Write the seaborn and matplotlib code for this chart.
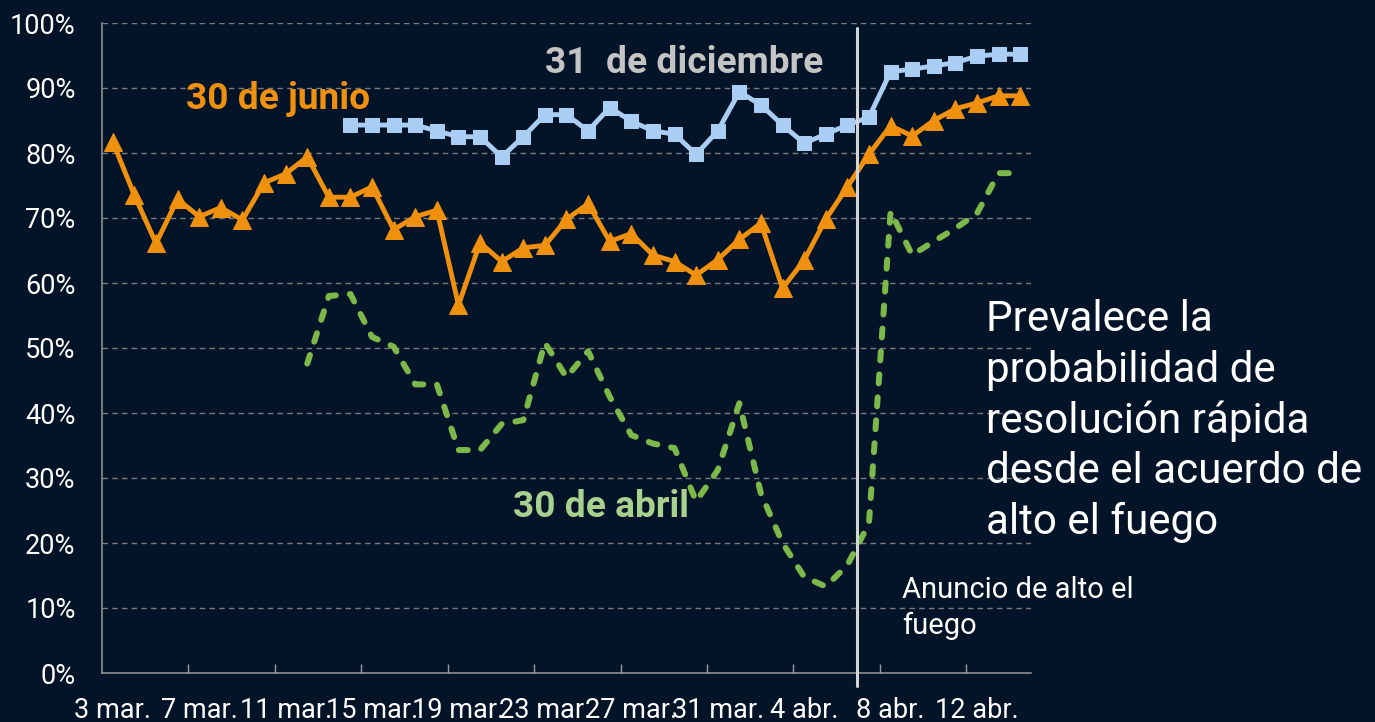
import matplotlib
matplotlib.use("Agg")
import matplotlib.pyplot as plt
import pandas as pd
import seaborn as sns

# ---------------- data ----------------
# daily categories: 3 mar. ... 14 abr. (43 days), index positions
dias = list(range(43))
tick_pos = [0, 4, 8, 12, 16, 20, 24, 28, 32, 36, 40]
tick_labels = ["3 mar.", "7 mar.", "11 mar.", "15 mar.", "19 mar.", "23 mar.",
               "27 mar.", "31 mar.", "4 abr.", "8 abr.", "12 abr."]

# 30 de junio (from 3 mar.)
junio = [81.7, 73.5, 66.1, 72.9, 70.2, 71.6, 69.7, 75.4, 76.8, 79.4,
         73.2, 73.2, 74.8, 68.2, 70.2, 71.2, 56.6, 66.2, 63.3, 65.4,
         65.8, 69.8, 72.2, 66.4, 67.6, 64.3, 63.3, 61.2, 63.6, 66.7,
         69.2, 59.2, 63.5, 69.8, 74.8, 79.8, 84.2, 82.6, 85.0, 86.8,
         87.7, 88.8, 88.8]

# 31 de diciembre (from 14 mar.)
diciembre_inicio = 11
diciembre = [84.3, 84.3, 84.3, 84.3, 83.4, 82.5, 82.5, 79.4, 82.5, 85.9,
             85.9, 83.4, 87.0, 84.9, 83.4, 82.9, 79.8, 83.4, 89.4, 87.4,
             84.3, 81.5, 82.9, 84.3, 85.5, 92.5, 92.9, 93.4, 93.9, 94.9,
             95.2, 95.2]

# 30 de abril (from 12 mar.)
abril_inicio = 9
abril = [47.6, 58.0, 58.3, 51.7, 50.2, 44.4, 44.4, 34.3, 34.3, 38.3,
         38.9, 50.8, 45.5, 49.5, 42.5, 36.6, 35.3, 34.6, 26.4, 31.2,
         41.5, 27.6, 20.0, 14.8, 13.3, 16.6, 23.0, 71.0, 64.3, 66.4,
         68.4, 70.7, 76.9, 76.9]

y_ticks = [0, 10, 20, 30, 40, 50, 60, 70, 80, 90, 100]
y_labels = [f"{v}%" for v in y_ticks]

anuncio_pos = 34.45   # ceasefire announcement (between 6 and 7 abr.)

# ---------------- style ----------------
BG = "#031428"
ORANGE = "#F0900F"
BLUE = "#AACDF4"
GREEN = "#7CB94A"
GRID = "#7a7a7a"
SPINE = "#9a9a9a"

sns.set_style("dark", rc={"axes.facecolor": BG, "figure.facecolor": BG})
plt.rcParams["font.family"] = ["Roboto", "DejaVu Sans"]

fig = plt.figure(figsize=(13.75, 7.22), dpi=100, facecolor=BG)
ax = fig.add_axes([102 / 1375, 1 - 673 / 722, (1031 - 102) / 1375, (673 - 23) / 722])
ax.set_facecolor(BG)

df_j = pd.DataFrame({"dia": dias, "valor": junio})
df_d = pd.DataFrame({"dia": dias[diciembre_inicio:diciembre_inicio + len(diciembre)],
                     "valor": diciembre})
df_a = pd.DataFrame({"dia": dias[abril_inicio:abril_inicio + len(abril)],
                     "valor": abril})

sns.lineplot(data=df_a, x="dia", y="valor", ax=ax, color=GREEN, zorder=3)
green_line = ax.lines[-1]
green_line.set_linewidth(4.3)
green_line.set_dash_capstyle("round")
green_line.set_linestyle((0, (1.5, 2.35)))

sns.lineplot(data=df_j, x="dia", y="valor", ax=ax, color=ORANGE, linewidth=3.5,
             marker="^", markersize=12.5, markeredgecolor=ORANGE, zorder=4)
sns.lineplot(data=df_d, x="dia", y="valor", ax=ax, color=BLUE, linewidth=3.5,
             marker="s", markersize=10.5, markeredgecolor=BLUE, zorder=5)

ax.set_xlim(-0.5, 42.5)
ax.set_ylim(0, 100)
ax.set_xlabel("")
ax.set_ylabel("")

ax.set_yticks(y_ticks)
ax.set_yticklabels(y_labels)
ax.set_xticks(tick_pos)
ax.set_xticklabels(tick_labels)
ax.set_xticks([p - 0.5 for p in tick_pos[1:]], minor=True)
ax.tick_params(axis="y", length=0, pad=19, labelsize=19.5, labelcolor="white")
ax.tick_params(axis="x", which="major", length=0, pad=17, labelsize=19.5,
               labelcolor="white")
ax.tick_params(axis="x", which="minor", direction="in", length=6.5,
               width=1.0, color=SPINE, bottom=True)

ax.grid(False)
for v in y_ticks[1:]:
    ax.axhline(v, color=GRID, lw=1.0, linestyle=(0, (4, 3)), zorder=1)

for s in ["top", "right"]:
    ax.spines[s].set_visible(False)
for s in ["left", "bottom"]:
    ax.spines[s].set_visible(True)
    ax.spines[s].set_color(SPINE)
    ax.spines[s].set_linewidth(1.1)

# ceasefire line
ax.plot([anuncio_pos, anuncio_pos], [-2.0, 99.2], color="#d4d4d4", lw=2.2,
        clip_on=False, zorder=6)

# ---------------- texts ----------------
def fx(px):
    return px / 1375

def fy(py):
    return 1 - py / 722

fig.text(fx(186), fy(109), "30 de junio", color=ORANGE, fontsize=26.7,
         fontweight="bold", ha="left", va="baseline")
fig.text(fx(545), fy(73), "31  de diciembre", color="#c4c4c4", fontsize=26.7,
         fontweight="bold", ha="left", va="baseline")
fig.text(fx(513), fy(517), "30 de abril", color="#A9D18E", fontsize=26.7,
         fontweight="bold", ha="left", va="baseline")
fig.text(fx(986), fy(299),
         "Prevalece la\nprobabilidad de\nresolución rápida\ndesde el acuerdo de\nalto el fuego",
         color="white", fontsize=30.3, ha="left", va="top", linespacing=1.3)
fig.text(fx(902), fy(576), "Anuncio de alto el\nfuego", color="white",
         fontsize=21, ha="left", va="top", linespacing=1.33)

fig.savefig("out.png", dpi=100, facecolor=BG)
